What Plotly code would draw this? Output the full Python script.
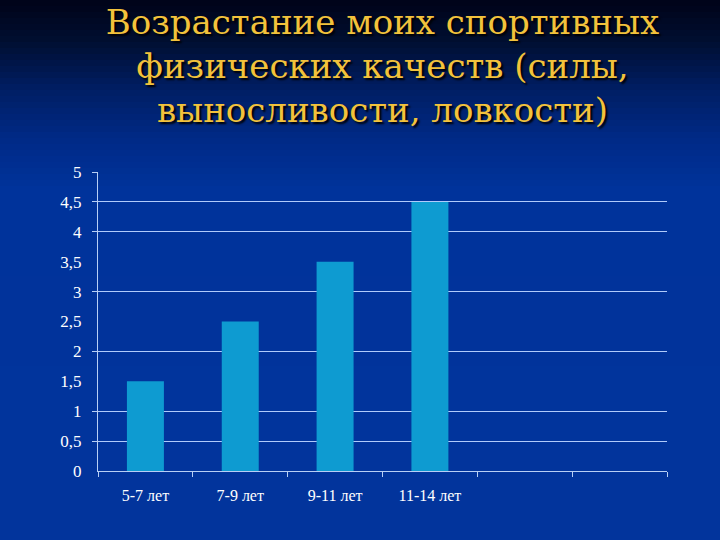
import plotly.graph_objects as go

categories = ["5-7 лет", "7-9 лет", "9-11 лет", "11-14 лет"]
values = [1.5, 2.5, 3.5, 4.5]
empty_slots = [" ", "  "]
y_tick_vals = [0, 0.5, 1, 1.5, 2, 2.5, 3, 3.5, 4, 4.5, 5]
y_tick_labels = ["0", "0,5", "1", "1,5", "2", "2,5", "3", "3,5", "4", "4,5", "5"]
grid_vals = [0.5, 1, 2, 3, 4, 4.5, 5]

title_text = "Возрастание моих спортивных<br>физических качеств (силы,<br>выносливости, ловкости)"

W, H = 720, 540
ml, mr, mt, mb = 98, 53, 172, 69
ph = H - mt - mb
pw = W - ml - mr

fig = go.Figure()
fig.add_trace(go.Bar(x=categories, y=values, marker=dict(color="#0e9bd1", line=dict(width=0)),
                     showlegend=False, hoverinfo="skip"))
fig.add_trace(go.Scatter(x=[categories[0]], y=[0], yaxis="y2", mode="markers",
                         marker=dict(opacity=0), showlegend=False, hoverinfo="skip"))

def lerp(c1, c2, t):
    return tuple(round(a + (b - a) * t) for a, b in zip(c1, c2))

stops = [(0, (0, 3, 24)), (40, (0, 14, 48)), (90, (0, 30, 100)), (140, (0, 42, 135)),
         (190, (0, 51, 155)), (540, (2, 52, 156))]
step = 6
bands = []
y = 0
while y < H:
    yc = y + step / 2
    c = stops[-1][1]
    for (ya, ca), (yb, cb) in zip(stops[:-1], stops[1:]):
        if ya <= yc <= yb:
            c = lerp(ca, cb, (yc - ya) / (yb - ya))
            break
    top = (H - mb - y) / ph
    bot = (H - mb - (y + step + 1)) / ph
    bands.append(dict(type="rect", xref="paper", yref="paper",
                      x0=-ml / pw - 0.05, x1=1 + mr / pw + 0.05, y0=bot, y1=top,
                      fillcolor="rgb(%d,%d,%d)" % c, line=dict(width=0), layer="below"))
    y += step

axis_col = "#b8cff5"
grid_col = "#b0cbfb"
fig.update_layout(
    width=W, height=H,
    margin=dict(l=ml, r=mr, t=mt, b=mb),
    paper_bgcolor="#02349c",
    plot_bgcolor="rgba(0,0,0,0)",
    separators=", ",
    shapes=bands,
    bargap=0.61,
    title=dict(text=title_text, x=0.5, xref="paper", xanchor="center",
               y=1 - 34 / H, yref="container", yanchor="middle",
               font=dict(family="DejaVu Serif", size=34, color="#f2c23c",
                         shadow="2px 2px 2px #000000")),
    xaxis=dict(type="category", categoryorder="array", categoryarray=categories + empty_slots,
               range=[-0.5, 5.5], tickson="boundaries", ticks="outside", ticklen=5,
               tickcolor=axis_col, showline=True, linecolor=axis_col, linewidth=1,
               showgrid=False, tickfont=dict(family="Liberation Serif", size=16, color="white"),
               ticklabelstandoff=10, fixedrange=True),
    yaxis=dict(range=[0, 5], tickvals=y_tick_vals, ticktext=y_tick_labels, showgrid=False,
               ticks="", showline=True, linecolor=axis_col, linewidth=1, zeroline=False,
               tickfont=dict(family="Liberation Serif", size=17, color="white"), ticklabelstandoff=12),
    yaxis2=dict(range=[0, 5], overlaying="y", side="left", tickvals=grid_vals, showticklabels=False,
                ticks="outside", ticklen=5, tickcolor=axis_col, showgrid=True, gridcolor=grid_col,
                gridwidth=1, zeroline=False, showline=False),
)
fig.write_html("out.html", config={"displayModeBar": False},
               post_script="document.body.style.margin='0px';")
